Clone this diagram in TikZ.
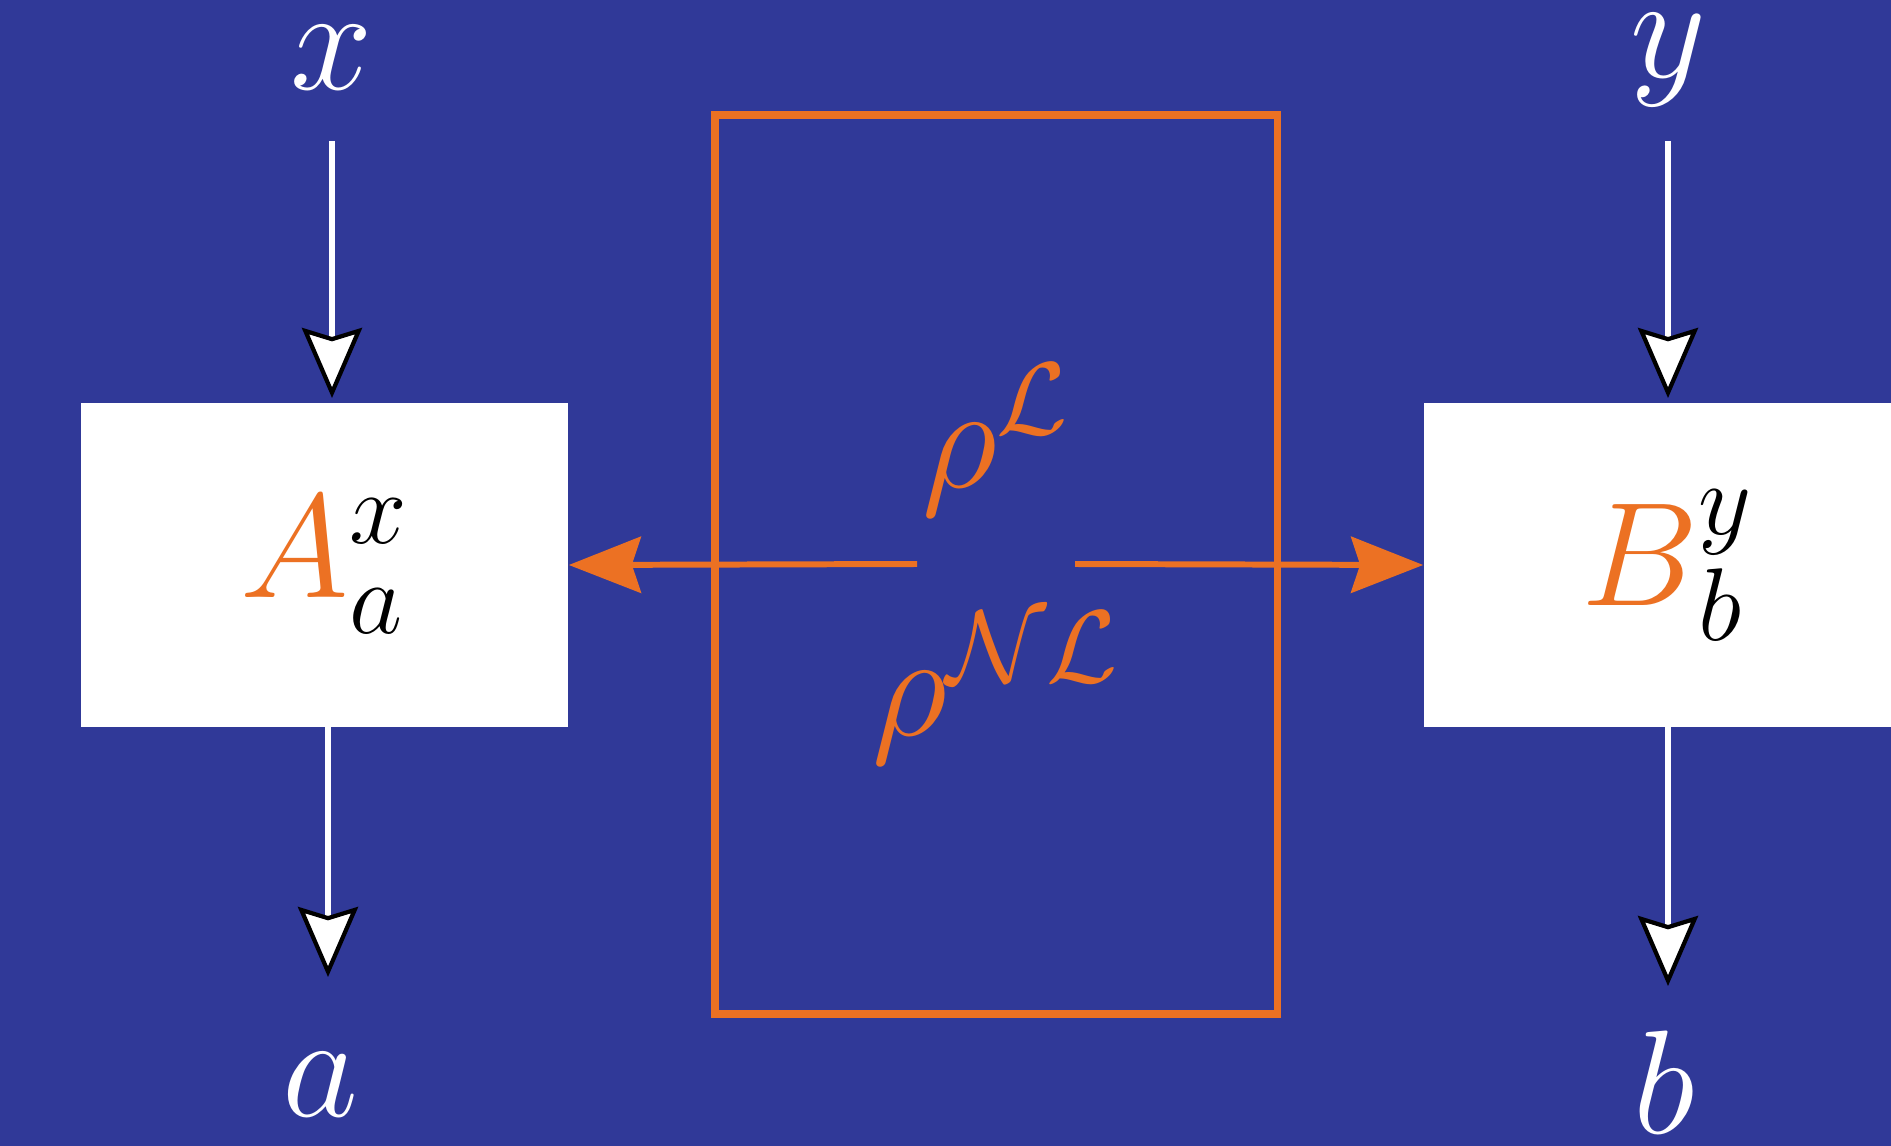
\documentclass[tikz,border=0pt]{standalone}
\usepackage{fix-cm}
\usepackage{amsmath}
\usetikzlibrary{arrows.meta}
\definecolor{bg}{RGB}{48,57,152}
\definecolor{org}{RGB}{236,113,35}
\begin{document}
\begin{tikzpicture}[x=0.01cm,y=-0.01cm,
  big/.style={font=\fontsize{42}{50}\selectfont, inner sep=0pt},
  card/.style={fill=white, draw=none, minimum width=4.87cm, minimum height=3.24cm, inner sep=0pt, font=\fontsize{42}{50}\selectfont},
  wline/.style={draw=white, line width=1.6pt, -{Stealth[length=7mm,width=6mm,inset=0.9mm,color=black,fill=white,line width=1.2pt]}},
  oline/.style={draw=org, line width=1.7pt, -{Stealth[length=7.2mm,width=5.6mm,inset=0.9mm,color=org,fill=org]}}
]
\clip (0,0) rectangle (1891,1146);
\fill[bg] (0,0) rectangle (1891,1146);
\useasboundingbox (0,0) rectangle (1891,1146);

% boxes
\node[card] (boxA) at (324.5,565) {$\textcolor{org}{A}^x_a$};
\node[card] (boxB) at (1667.5,565) {$\textcolor{org}{B}^y_b$};

% orange frame
\draw[org, line width=2pt] (715,115) rectangle (1277,1014);

% labels
\node[big, text=white] (xl) at (332,58) {$x$};
\node[big, text=white] (yl) at (1668,60) {$y$};
\node[big, text=white] (al) at (320,1085) {$a$};
\node[big, text=white] (bl) at (1664,1082) {$b$};

\node[big, text=org] (rL) at (996,440) {$\rho^{\mathcal{L}}$};
\node[big, text=org] (rNL) at (996,688) {$\rho^{\mathcal{NL}}$};

% vertical connectors
\coordinate (xs) at (332,141);
\coordinate (xe) at (332,398);
\coordinate (as) at (328,727);
\coordinate (ae) at (328,977);
\coordinate (ys) at (1668,141);
\coordinate (ye) at (1668,398);
\coordinate (bs) at (1668,727);
\coordinate (be) at (1668,986);
\draw[wline] (xs) -- (xe);
\draw[wline] (as) -- (ae);
\draw[wline] (ys) -- (ye);
\draw[wline] (bs) -- (be);

% orange arrows
\coordinate (ls) at (917,564);
\coordinate (rs) at (1075,564);
\draw[oline] (ls) -- (boxA.east);
\draw[oline] (rs) -- (boxB.west);
\end{tikzpicture}
\end{document}
